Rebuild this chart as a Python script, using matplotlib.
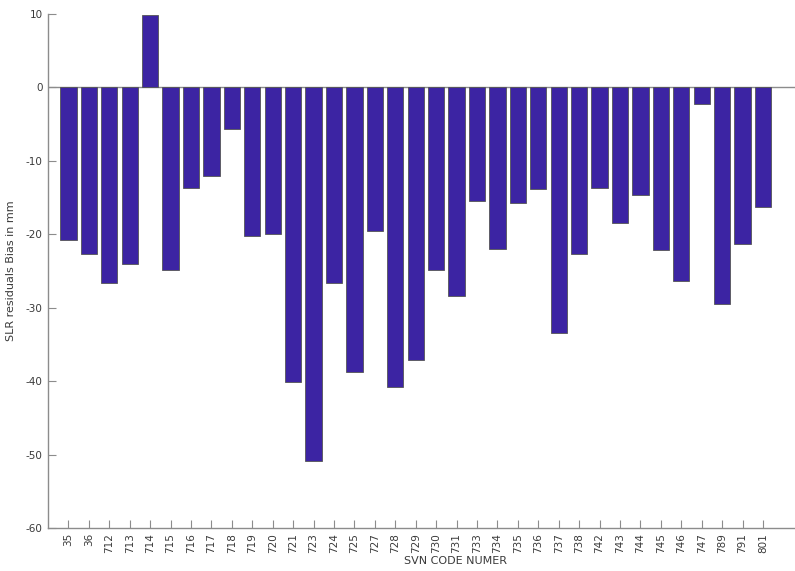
import numpy as np
import matplotlib
matplotlib.use("Agg")
import matplotlib.pyplot as plt

plt.rcParams["axes.unicode_minus"] = False

# SLR residual bias per GPS satellite (SVN)
svn = ["35", "36", "712", "713", "714", "715", "716", "717", "718", "719",
       "720", "721", "723", "724", "725", "727", "728", "729", "730", "731",
       "733", "734", "735", "736", "737", "738", "742", "743", "744", "745",
       "746", "747", "789", "791", "801"]
bias_mm = [-20.8, -22.7, -26.6, -24.0, 9.8, -24.9, -13.7, -12.1, -5.6, -20.2,
           -19.9, -40.1, -50.9, -26.6, -38.7, -19.5, -40.8, -37.1, -24.8, -28.4,
           -15.4, -22.0, -15.8, -13.8, -33.5, -22.7, -13.7, -18.5, -14.7, -22.1,
           -26.4, -2.2, -29.5, -21.3, -16.3]

grey = "#8c8c8c"
txt = "#3a3a3a"

fig = plt.figure(figsize=(7.95, 5.71), dpi=100)
ax = fig.add_axes([48 / 795, 1 - 528 / 571, 1 - 48 / 795, (528 - 14) / 571])

x = np.arange(1, len(svn) + 1)
ax.bar(x, bias_mm, width=0.8, color="#3c24a3", edgecolor="#555555",
       linewidth=0.6, zorder=2)
ax.axhline(0, color=grey, linewidth=1.0, zorder=1)

ax.set_xlim(0, 1 + (795 - 68) / 20.44)
ax.set_ylim(-60, 10)
ax.set_yticks(np.arange(-60, 11, 10))
ax.set_xticks(x)
ax.set_xticklabels(svn, rotation=90)

for s in ["top", "right"]:
    ax.spines[s].set_visible(False)
for s in ["left", "bottom"]:
    ax.spines[s].set_color(grey)
    ax.spines[s].set_linewidth(1.0)

ax.tick_params(axis="both", direction="in", color=grey, length=6,
               width=0.8, labelsize=7.5, labelcolor=txt)
ax.tick_params(axis="y", pad=4)

ax.set_xlabel("SVN CODE NUMER", fontsize=8, color=txt)
ax.xaxis.set_label_coords((456 - 48) / (795 - 48), -0.055)
ax.set_ylabel("SLR residuals Bias in mm", fontsize=8, color=txt)
ax.yaxis.set_label_coords(-0.043, 0.5)

fig.savefig("out.png", dpi=100)
